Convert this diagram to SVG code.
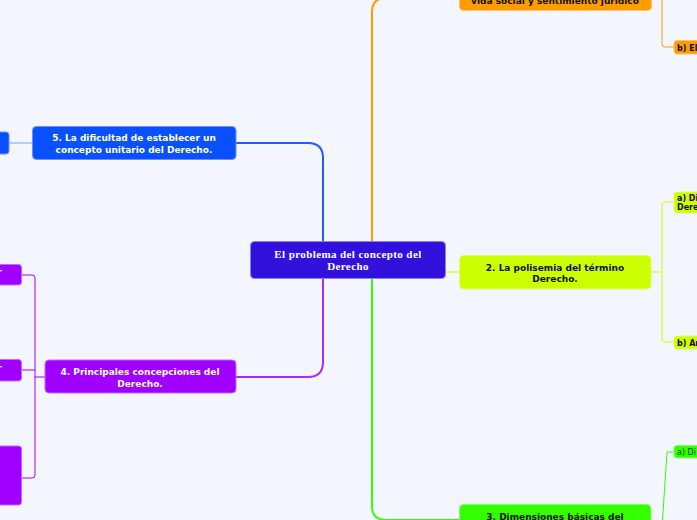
<svg xmlns="http://www.w3.org/2000/svg" width="697" height="520" viewBox="0 0 697 520">
<style>
.bg{fill:#F3F6FE}
.t{font-family:"DejaVu Sans",Verdana,sans-serif;font-weight:bold;font-size:9px;text-anchor:middle}
.s{font-family:"DejaVu Sans",Verdana,sans-serif;font-weight:bold;font-size:8px}
.w{fill:#FFFFFF}
.k{fill:#111111}
.c{fill:none;stroke-linecap:round}
.ct{font-family:"Liberation Serif","DejaVu Serif",serif;font-weight:bold;font-size:11px;letter-spacing:0.4px;fill:#FFFFFF;text-anchor:middle}
</style>
<rect class="bg" x="0" y="0" width="697" height="520"/>
<g id="connectors">
  <path class="c" d="M323,241 V158 Q323,143 308,143 H236" stroke="#1F5BFF" stroke-width="2"/>
  <path class="c" d="M9,143 H33" stroke="#7FA0FF" stroke-width="1"/>
  <path class="c" d="M323,278 V362 Q323,377 308,377 H236" stroke="#A52BFF" stroke-width="2"/>
  <path class="c" d="M45,377 H35 M22,275 H32 Q35,275 35,278 V475 Q35,478 32,478 H22 M22,370 H35" stroke="#A000FF" stroke-width="1"/>
  <path class="c" d="M372,241 V12 Q372,-2 386,-2 H460" stroke="#FF9D00" stroke-width="2"/>
  <path class="c" d="M651,-2 H662 V44 Q662,47 665,47 H674" stroke="#FF9D00" stroke-width="1"/>
  <path class="c" d="M372,278 V506 Q372,520 386,520 H459" stroke="#33FF00" stroke-width="2"/>
  <path class="c" d="M651,528 H662 L667,452 H674" stroke="#33FF00" stroke-width="1"/>
  <path class="c" d="M445,272 H459" stroke="#D6FF40" stroke-width="1.5"/>
  <path class="c" d="M651,272 H662 M674,202 H665 Q662,202 662,205 V339 Q662,342 665,342 H674" stroke="#CCFF00" stroke-width="1"/>
</g>
<g id="central">
  <rect x="250.5" y="241.5" width="195" height="37" rx="4" fill="#3311DD" stroke="#8F80F0" stroke-width="1"/>
  <text class="ct" x="348" y="257.5">El problema del concepto del</text>
  <text class="ct" x="348" y="269.5">Derecho</text>
</g>
<g id="node1">
  <rect x="459.5" y="-30" width="192" height="40.5" rx="4" fill="#FF9D00" stroke="#FFC266" stroke-width="1"/>
  <text class="t k" x="555" y="3.5">vida social y sentimiento jurídico</text>
</g>
<g id="node1b">
  <rect x="674" y="40.5" width="40" height="13.5" rx="3" fill="#FF9D00" stroke="#FFC266" stroke-width="1"/>
  <text class="s k" x="677" y="50.5">b) El</text>
</g>
<g id="node2">
  <rect x="459.5" y="255.5" width="191.5" height="33.5" rx="4" fill="#CCFF00" stroke="#E0FF66" stroke-width="1"/>
  <text class="t k" x="555" y="270.5">2. La polisemia del término</text>
  <text class="t k" x="555" y="282">Derecho.</text>
</g>
<g id="node2a">
  <rect x="674" y="192" width="40" height="21" rx="3" fill="#CCFF00" stroke="#E0FF66" stroke-width="1"/>
  <text class="s k" x="677" y="201">a) Di</text>
  <text class="s k" x="677" y="210">Dere</text>
</g>
<g id="node2b">
  <rect x="674" y="336" width="40" height="13" rx="3" fill="#CCFF00" stroke="#E0FF66" stroke-width="1"/>
  <text class="s k" x="677" y="346">b) An</text>
</g>
<g id="node3">
  <rect x="459.5" y="504.5" width="191.5" height="40" rx="4" fill="#33FF00" stroke="#88FF66" stroke-width="1"/>
  <text class="t k" x="555" y="519.5">3. Dimensiones básicas del</text>
</g>
<g id="node3a">
  <rect x="674" y="445.5" width="40" height="12.5" rx="3" fill="#33FF00" stroke="#88FF66" stroke-width="1"/>
  <text x="677" y="455" font-family="'DejaVu Sans',Verdana,sans-serif" font-size="8" fill="#0F4A00">a) Di</text>
</g>
<g id="node4">
  <rect x="45" y="360" width="191" height="33" rx="4" fill="#A000FF" stroke="#C466FF" stroke-width="1"/>
  <text class="t w" x="140" y="375">4. Principales concepciones del</text>
  <text class="t w" x="140" y="386.5">Derecho.</text>
</g>
<g id="node4a">
  <rect x="-10" y="264.5" width="31.5" height="20.5" rx="3" fill="#A000FF" stroke="#C466FF" stroke-width="1"/>
  <text class="s w" x="-1" y="273">-</text>
</g>
<g id="node4b">
  <rect x="-10" y="359.5" width="31.5" height="21.5" rx="3" fill="#A000FF" stroke="#C466FF" stroke-width="1"/>
  <text class="s w" x="-1" y="369">-</text>
</g>
<g id="node4c">
  <rect x="-10" y="446" width="31.5" height="59" rx="3" fill="#A000FF" stroke="#C466FF" stroke-width="1"/>
</g>
<g id="node5">
  <rect x="32.5" y="126.5" width="203.5" height="33" rx="4" fill="#0A50FF" stroke="#6690FF" stroke-width="1"/>
  <text class="t w" x="134" y="140.5">5. La dificultad de establecer un</text>
  <text class="t w" x="134" y="152.5">concepto unitario del Derecho.</text>
</g>
<g id="node5a">
  <rect x="-10" y="132" width="19" height="22" rx="3" fill="#0A50FF" stroke="#6690FF" stroke-width="1"/>
</g>
</svg>
